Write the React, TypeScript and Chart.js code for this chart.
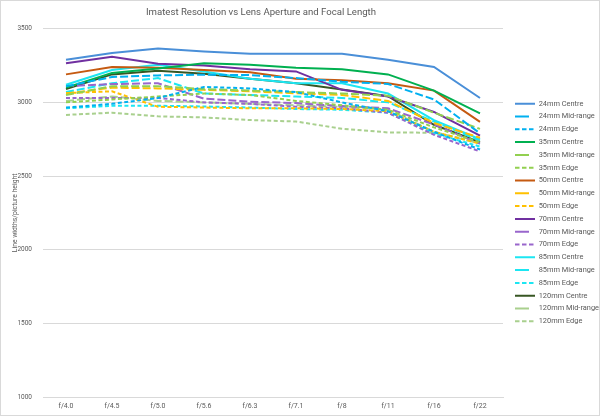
import React, { useEffect, useRef } from "react";
import { Chart, registerables } from "chart.js";

Chart.register(...registerables);

const apertures = ["f/4.0", "f/4.5", "f/5.0", "f/5.6", "f/6.3", "f/7.1", "f/8", "f/11", "f/16", "f/22"];
const yTickValues = [1000, 1500, 2000, 2500, 3000, 3500];

const mm24Centre = [3290, 3335, 3365, 3345, 3330, 3330, 3330, 3290, 3240, 3030];
const mm24Mid = [3110, 3172, 3183, 3188, 3185, 3165, 3140, 3125, 3020, 2790];
const mm24Edge = [2965, 2990, 3030, 3105, 3095, 3070, 3000, 2940, 2800, 2680];
const mm35Centre = [3100, 3200, 3230, 3265, 3255, 3235, 3225, 3190, 3080, 2925];
const mm35Mid = [3050, 3110, 3110, 3090, 3080, 3070, 3060, 3045, 2930, 2820];
const mm35Edge = [3000, 3020, 3040, 3060, 3050, 3010, 2980, 2950, 2830, 2730];
const mm50Centre = [3190, 3240, 3235, 3220, 3205, 3160, 3150, 3130, 3080, 2868];
const mm50Mid = [3060, 3100, 3095, 3085, 3075, 3062, 3050, 3010, 2860, 2760];
const mm50Edge = [3063, 3075, 2970, 2965, 2960, 2960, 2955, 2940, 2800, 2720];
const mm70Centre = [3265, 3310, 3262, 3250, 3225, 3210, 3085, 3040, 2935, 2775];
const mm70Mid = [3110, 3124, 3130, 3025, 3005, 2995, 2975, 2960, 2850, 2720];
const mm70Edge = [3030, 3030, 3030, 3000, 2990, 2970, 2960, 2930, 2780, 2667];
const mm85Centre = [3120, 3220, 3255, 3210, 3160, 3130, 3130, 3060, 2880, 2750];
const mm85Mid = [3070, 3130, 3165, 3060, 3050, 3040, 3030, 3000, 2870, 2740];
const mm85Edge = [2960, 2977, 2977, 2972, 2965, 2955, 2950, 2930, 2790, 2700];
const mm120Centre = [3090, 3190, 3215, 3195, 3160, 3130, 3088, 3042, 2848, 2730];
const mm120Mid = [3010, 3040, 3010, 3000, 2990, 2980, 2970, 2950, 2800, 2720];
const mm120Edge = [2915, 2930, 2905, 2898, 2880, 2870, 2821, 2796, 2794, 2730];

const seriesNames = [
  "24mm Centre", "24mm Mid-range", "24mm Edge",
  "35mm Centre", "35mm Mid-range", "35mm Edge",
  "50mm Centre", "50mm Mid-range", "50mm Edge",
  "70mm Centre", "70mm Mid-range", "70mm Edge",
  "85mm Centre", "85mm Mid-range", "85mm Edge",
  "120mm Centre", "120mm Mid-range", "120mm Edge",
];
const seriesValues = [
  mm24Centre, mm24Mid, mm24Edge,
  mm35Centre, mm35Mid, mm35Edge,
  mm50Centre, mm50Mid, mm50Edge,
  mm70Centre, mm70Mid, mm70Edge,
  mm85Centre, mm85Mid, mm85Edge,
  mm120Centre, mm120Mid, mm120Edge,
];
const seriesColors = [
  "#4A8FD8", "#00B0F0", "#00B0F0",
  "#00B050", "#92D050", "#92D050",
  "#C55A11", "#FFC000", "#FFC000",
  "#7030A0", "#9966CC", "#9966CC",
  "#1CE6F2", "#1CE6F2", "#1CE6F2",
  "#375623", "#A9D08E", "#A9D08E",
];

const plotDash = [[], [8, 3], [4, 2.5]];
const legendDash = [[], [14, 6], [4.5, 2.5]];

const FONT = "Roboto, 'Noto Sans', sans-serif";
const TEXT = "#595959";

const CANVAS_W = 598;
const CANVAS_H = 414;
const AREA_LEFT = 42;
const AREA_RIGHT = 502;
const TITLE_CENTER_X = 260;
const LEGEND_ITEM_X = 514;
const LEGEND_FIRST_Y = 99;
const LEGEND_PAD = 5.4;

const layoutTweaks = {
  id: "layoutTweaks",
  beforeLayout(chart: any) {
    const lg = chart.legend;
    if (lg && !lg.__patched) {
      const orig = lg.fit.bind(lg);
      lg.fit = function () {
        orig();
        this.width = CANVAS_W - AREA_RIGHT;
      };
      lg.__patched = true;
    }
  },
  afterLayout(chart: any) {
    const lg = chart.legend;
    if (lg) {
      lg.left = LEGEND_ITEM_X - LEGEND_PAD;
      lg.right = CANVAS_W;
      lg.width = lg.right - lg.left;
      lg.top = LEGEND_FIRST_Y - LEGEND_PAD;
      lg.bottom = CANVAS_H;
      lg.height = lg.bottom - lg.top;
    }
    const tb = chart.titleBlock;
    if (tb) {
      tb.left = 0;
      tb.right = TITLE_CENTER_X * 2;
      tb.width = tb.right - tb.left;
    }
  },
};

export default function App() {
  const ref = useRef<HTMLCanvasElement | null>(null);

  useEffect(() => {
    document.body.style.margin = "0";
    const canvas = ref.current;
    if (!canvas) return;
    const datasets = seriesNames.map((name, i) => ({
      label: name,
      data: seriesValues[i],
      borderColor: seriesColors[i],
      backgroundColor: seriesColors[i],
      borderWidth: 2,
      borderDash: plotDash[i % 3],
      pointRadius: 0,
      pointHoverRadius: 0,
      tension: 0,
      fill: false,
    }));
    const chart = new Chart(canvas, {
      type: "line",
      data: { labels: apertures, datasets },
      plugins: [layoutTweaks],
      options: {
        animation: false,
        responsive: false,
        maintainAspectRatio: false,
        layout: { padding: { left: 0, right: 0, top: 0, bottom: 0 } },
        plugins: {
          title: {
            display: true,
            text: "Imatest Resolution vs Lens Aperture and Focal Length",
            color: TEXT,
            font: { family: FONT, size: 9.6, weight: "normal" },
            padding: { top: 6.2, bottom: 10 },
          },
          legend: {
            position: "right",
            align: "start",
            labels: {
              usePointStyle: true,
              pointStyle: "line",
              pointStyleWidth: 20,
              boxHeight: 8,
              padding: LEGEND_PAD,
              color: TEXT,
              font: { family: FONT, size: 7.4 },
              generateLabels: (ch: any) => {
                const items = Chart.defaults.plugins.legend.labels.generateLabels(ch);
                return items.map((it: any, i: number) => ({
                  ...it,
                  pointStyle: "line",
                  lineDash: legendDash[i % 3],
                  lineWidth: 2,
                  strokeStyle: seriesColors[i],
                  fillStyle: seriesColors[i],
                }));
              },
            },
          },
          tooltip: { enabled: false },
        },
        scales: {
          x: {
            offset: true,
            grid: { display: false, drawTicks: false },
            border: { display: true, color: "#D9D9D9", width: 1 },
            ticks: { color: TEXT, font: { family: FONT, size: 7 }, padding: 5, maxRotation: 0, autoSkip: false },
            afterFit: (scale: any) => {
              scale.height = 18;
            },
          },
          y: {
            min: 1000,
            max: 3500,
            afterBuildTicks: (scale: any) => {
              scale.ticks = yTickValues.map((v) => ({ value: v }));
            },
            afterFit: (scale: any) => {
              scale.width = AREA_LEFT;
            },
            grid: { color: "#D9D9D9", lineWidth: 1, drawTicks: false },
            border: { display: false },
            ticks: {
              color: TEXT,
              font: { family: FONT, size: 6.5 },
              padding: 11,
              callback: (v: any) => String(v),
            },
            title: {
              display: true,
              text: "Line widths/picture height",
              color: TEXT,
              font: { family: FONT, size: 6.8 },
              padding: { top: 10, bottom: 0 },
            },
          },
        },
      },
    });
    return () => chart.destroy();
  }, []);

  return (
    <div
      style={{
        position: "absolute",
        left: 0,
        top: 0,
        width: 600,
        height: 416,
        boxSizing: "border-box",
        border: "1px solid #D9D9D9",
        background: "#fff",
      }}
    >
      <canvas ref={ref} width={CANVAS_W} height={CANVAS_H} style={{ display: "block", width: CANVAS_W, height: CANVAS_H }} />
    </div>
  );
}
